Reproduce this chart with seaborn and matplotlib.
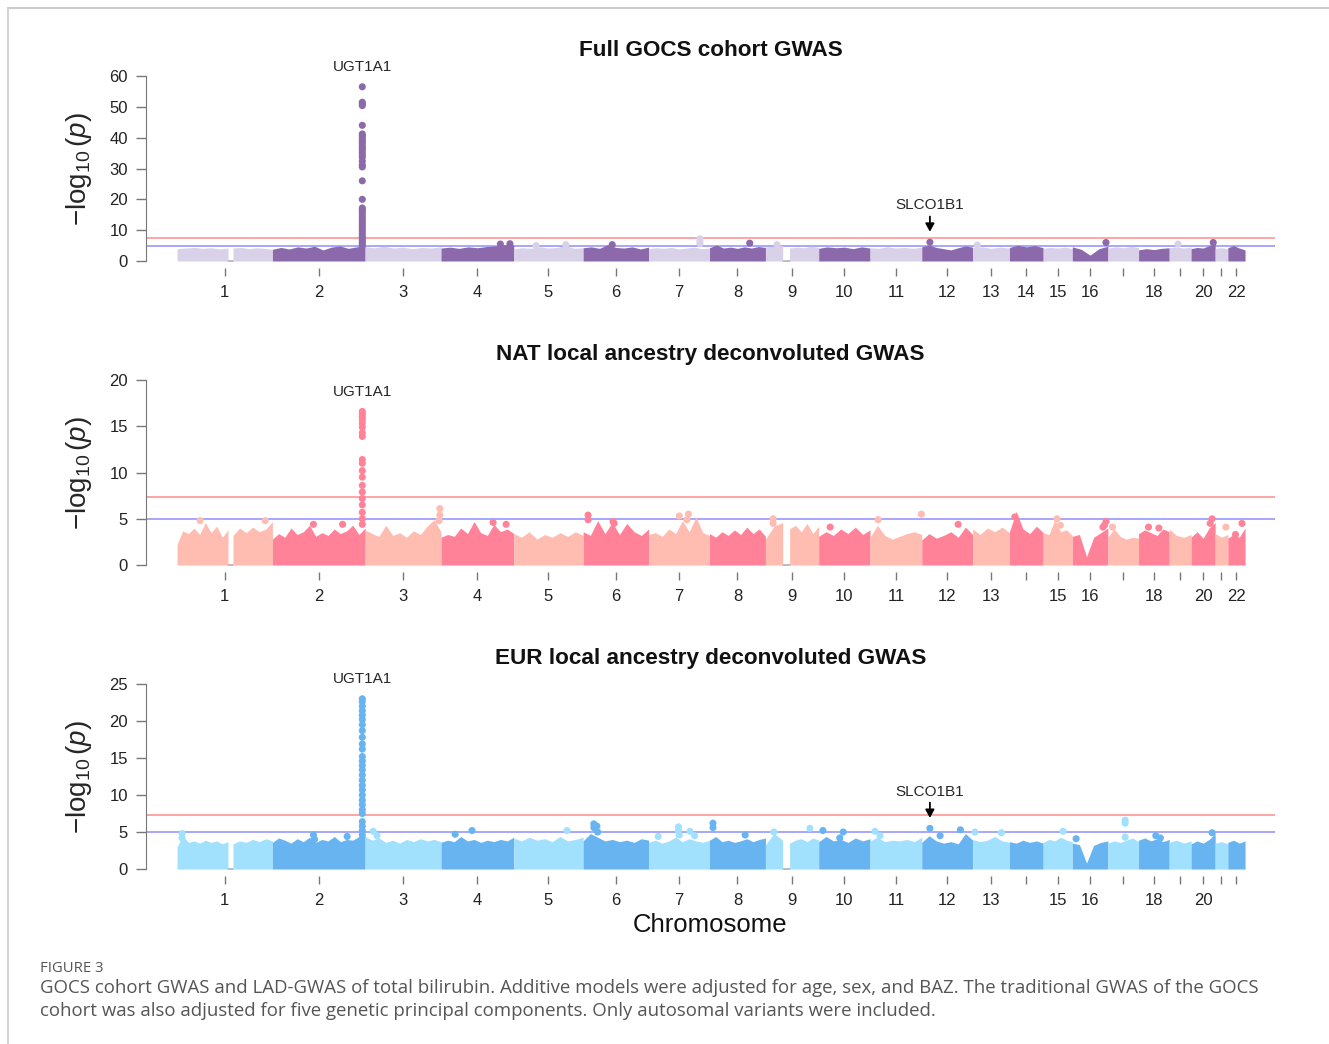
import matplotlib
matplotlib.use('Agg')
import matplotlib.pyplot as plt
import numpy as np
import pandas as pd
import seaborn as sns
from matplotlib.lines import Line2D

# chromosome spans on the plot (Mb, first to last variant) and centromere gaps
chrom_len_mb = [249, 242, 198, 190, 181, 171, 159, 146, 139, 134, 135, 133,
                96, 88, 76, 93, 80, 80, 57, 63, 33, 45]
chrom_gaps_mb = {1: (133, 146), 9: (45, 63)}

# x tick labels (R drops the ones that would overlap)
labels_full = [str(c) for c in range(1, 17)] + ['', '18', '', '20', '', '22']
labels_nat = [str(c) for c in range(1, 14)] + ['', '15', '16', '', '18', '', '20', '', '22']
labels_eur = [str(c) for c in range(1, 14)] + ['', '15', '16', '', '18', '', '20', '', '']

# upper envelope of the dense point cloud per chromosome (-log10 p), None = centromere gap
full_skyline = [
    [4.0, 4.2, 4.4, 4.1, 4.3, 3.9, 4.2, None, 4.2, 4.4, 4.0, 4.3, 4.1, 3.8],
    [3.8, 4.4, 3.9, 4.6, 4.2, 4.8, 3.6, 4.5, 4.9, 4.1, 4.6, 5.0],
    [4.6, 4.3, 4.8, 4.2, 4.5, 4.0, 4.4, 4.2, 4.6],
    [4.2, 4.5, 4.1, 4.6, 4.3, 4.7, 4.9, 5.3, 5.2],
    [4.0, 4.3, 4.1, 4.6, 4.2, 4.4, 5.0, 4.1, 4.3],
    [4.3, 4.6, 4.1, 5.3, 4.4, 4.2, 4.6, 3.9, 4.5],
    [4.0, 4.3, 4.1, 4.4, 3.9, 4.2, 4.5, 4.0, 4.2],
    [4.3, 5.2, 4.2, 4.5, 4.1, 4.6, 4.2, 4.7, 4.4],
    [4.6, 5.0, None, 4.2, 4.5, 4.3, 4.8, 4.4],
    [4.1, 4.6, 4.3, 4.5, 4.0, 4.6, 4.2],
    [4.3, 4.1, 4.6, 4.2, 4.4, 4.1, 4.5],
    [4.6, 5.2, 4.4, 4.0, 3.6, 4.3, 4.9, 4.5],
    [4.3, 4.6, 4.1, 4.5, 4.2],
    [4.4, 5.1, 4.6, 5.0, 4.3],
    [4.1, 4.4, 4.2, 4.5, 4.0],
    [4.6, 3.8, 1.9, 4.0, 4.8],
    [4.2, 4.6, 4.3, 4.7, 4.4],
    [3.6, 4.0, 3.7, 4.1, 4.3],
    [4.3, 4.6, 4.2, 4.5],
    [4.0, 4.4, 4.2, 5.0, 5.5],
    [4.1, 4.3, 4.0],
    [4.3, 5.0, 4.2, 3.6],
]
nat_skyline = [
    [2.2, 3.7, 3.4, 4.0, 3.3, 4.6, 3.5, 4.2, 3.0, 3.8, None, 3.2, 4.0, 3.5, 4.1, 3.6, 3.9, 4.7],
    [2.8, 3.4, 3.0, 4.0, 3.3, 3.6, 4.3, 3.1, 3.5, 3.2, 3.9, 3.4, 3.7, 4.3, 3.3, 4.0],
    [3.8, 3.4, 3.1, 4.3, 3.2, 3.5, 3.0, 3.7, 3.3, 4.2, 4.9, 3.6],
    [3.0, 3.3, 3.1, 4.0, 3.4, 4.7, 3.5, 3.2, 4.4, 3.6, 3.9, 3.4],
    [3.4, 3.0, 3.6, 2.8, 3.3, 3.0, 3.5, 3.1, 3.6, 3.2],
    [3.6, 3.2, 4.8, 3.4, 4.6, 3.3, 4.5, 3.6, 3.2, 3.9],
    [3.3, 3.5, 3.1, 3.9, 3.4, 4.8, 3.6, 5.2, 3.5, 3.2],
    [3.4, 3.0, 3.6, 3.2, 3.8, 3.3, 4.1, 3.4, 3.9, 3.1],
    [2.8, 4.2, 4.6, None, 3.9, 4.3, 3.6, 4.5, 3.4, 4.2],
    [3.1, 3.6, 3.2, 3.9, 3.4, 4.1, 3.3, 3.8],
    [3.0, 4.3, 3.2, 2.8, 3.1, 3.4, 3.6, 3.3],
    [2.7, 3.4, 2.9, 3.2, 3.6, 3.0, 4.1, 3.3],
    [3.9, 3.3, 4.0, 3.6, 4.1, 3.5],
    [3.6, 5.8, 3.9, 3.4, 4.2, 3.5],
    [3.5, 3.3, 4.9, 3.6, 3.8, 3.2],
    [3.1, 3.3, 0.9, 3.0, 3.5, 4.0],
    [3.0, 3.9, 3.1, 2.8, 3.0, 2.9],
    [3.4, 3.8, 3.5, 3.2, 3.9, 3.6],
    [3.9, 3.2, 3.0, 3.3],
    [3.0, 3.6, 2.9, 4.0, 4.6],
    [3.4, 3.0, 3.3],
    [2.9, 3.3, 3.0, 4.0],
]
eur_skyline = [
    [3.0, 4.5, 3.6, 3.8, 3.5, 3.9, 3.6, 3.8, 3.4, 3.7, None, 3.4, 3.8, 3.6, 4.0, 3.7, 4.1, 3.8],
    [3.6, 4.2, 3.9, 3.5, 4.1, 3.7, 4.3, 3.6, 4.0, 3.8, 4.4, 3.7, 4.0, 3.9, 4.4, 4.5],
    [4.4, 3.9, 4.2, 3.6, 3.9, 3.5, 4.0, 3.7, 4.1, 3.8, 4.0, 3.7],
    [3.6, 3.9, 3.7, 4.4, 3.8, 4.0, 3.6, 3.9, 3.7, 4.0, 3.8, 4.3],
    [4.2, 3.8, 4.3, 3.9, 4.1, 3.7, 4.4, 3.8, 4.0, 4.3],
    [3.8, 4.8, 4.3, 3.8, 4.0, 3.7, 3.9, 3.6, 4.1, 3.9],
    [3.6, 3.9, 3.5, 3.8, 4.3, 3.7, 4.1, 3.8, 3.6, 3.9],
    [3.9, 4.4, 3.7, 3.9, 3.6, 3.8, 4.1, 3.7, 4.0, 4.2],
    [3.3, 4.8, 3.9, None, 3.5, 3.9, 4.1, 3.7, 4.2, 3.9],
    [3.7, 4.4, 3.8, 4.0, 3.6, 4.2, 3.8, 4.1],
    [3.8, 4.3, 3.7, 3.9, 3.8, 4.0, 3.7, 4.3],
    [3.6, 4.5, 3.8, 3.5, 3.7, 3.4, 4.8, 3.9],
    [4.0, 3.7, 3.9, 4.4, 3.8, 3.6],
    [3.7, 3.5, 3.9, 3.6, 3.8, 3.5],
    [3.6, 4.0, 3.8, 4.3, 3.9, 3.7],
    [3.5, 3.3, 0.8, 3.2, 3.6, 3.8],
    [3.5, 3.8, 3.6, 3.9, 4.2, 3.7],
    [3.9, 4.2, 3.8, 4.1, 3.7, 4.0],
    [3.6, 3.9, 3.5, 3.8],
    [3.4, 3.8, 3.5, 4.0, 4.8],
    [3.5, 3.7, 3.4],
    [3.6, 3.9, 3.5, 3.8],
]

# UGT1A1 (chr2) and SLCO1B1 (chr12) loci, Mb
ugt1a1_pos = 234.6
slco1b1_pos = 21.3

# -log10 p of the variants stacked at UGT1A1
full_ugt1a1 = [56.5, 51.5, 51.0, 50.4, 44.0, 41.2, 40.6, 40.0, 39.2, 38.6, 38.0,
               37.2, 36.6, 36.0, 35.2, 34.4, 33.6, 32.4, 31.2, 30.5, 26.0, 20.0,
               17.2, 16.6, 16.0, 15.2, 14.4, 13.6, 12.8, 12.0, 11.2, 10.4, 9.6,
               8.8, 8.0, 7.4, 6.8, 6.2, 5.6, 5.0]
nat_ugt1a1 = [16.6, 16.3, 16.0, 15.7, 15.3, 14.9, 14.3, 13.9, 11.4, 11.0, 10.2,
              9.5, 8.6, 7.9, 7.2, 6.5, 5.7, 5.0, 4.4]
eur_ugt1a1 = [23.0, 22.6, 22.0, 21.4, 20.8, 20.2, 19.5, 18.7, 17.8, 16.9, 16.2,
              15.2, 14.6, 14.0, 13.4, 12.7, 12.0, 11.3, 10.7, 10.0, 9.3, 8.7,
              8.0, 7.5, 6.4, 5.8, 5.2, 4.6]

# other points standing above the cloud: (chromosome, position Mb, -log10 p)
full_points = [(4, 155, 5.5), (4, 180, 5.6), (5, 58, 5.0), (5, 136, 5.3),
               (6, 76, 5.3), (7, 134, 5.6), (7, 134, 6.4), (7, 134, 7.2),
               (8, 105, 5.8), (9, 30, 5.3), (12, slco1b1_pos, 6.1), (13, 12, 5.2),
               (16, 88, 6.0), (19, 23, 5.5), (20, 58, 6.0)]
nat_points = [(1, 60, 4.8), (1, 230, 4.8), (2, 107, 4.4), (2, 183, 4.4),
              (3, 195, 6.1), (3, 195, 5.4), (3, 193, 4.8), (4, 136, 4.6),
              (4, 170, 4.4), (6, 13, 5.4), (6, 13, 4.9), (6, 78, 4.7),
              (6, 81, 4.5), (7, 80, 5.3), (7, 104, 5.5), (7, 100, 4.9),
              (9, 20, 5.0), (9, 20, 4.5), (10, 30, 4.1), (11, 21, 4.9),
              (11, 134, 5.5), (12, 95, 4.4), (14, 14, 5.2), (15, 36, 5.0),
              (15, 45, 4.3), (16, 88, 4.7), (16, 84, 4.3), (16, 80, 4.1),
              (17, 12, 4.1), (18, 26, 4.1), (18, 53, 4.0), (20, 55, 5.0),
              (20, 50, 4.5), (21, 28, 4.1), (22, 37, 4.5), (22, 20, 3.3)]
eur_points = [(1, 13, 4.8), (1, 13, 4.2), (2, 107, 4.6), (2, 110, 4.0),
              (2, 195, 4.4), (3, 21, 5.1), (3, 31, 4.5), (4, 37, 4.7),
              (4, 81, 5.2), (5, 139, 5.2), (6, 28, 6.1), (6, 28, 5.6),
              (6, 36, 5.8), (6, 38, 5.0), (7, 25, 4.4), (7, 78, 5.7),
              (7, 78, 5.2), (7, 80, 4.6), (7, 108, 5.1), (7, 120, 4.5),
              (8, 9, 6.2), (8, 9, 5.6), (8, 93, 4.6), (9, 22, 5.0),
              (9, 116, 5.5), (10, 11, 5.2), (10, 55, 4.2), (10, 64, 5.0),
              (11, 13, 5.1), (11, 26, 4.5), (12, slco1b1_pos, 5.5), (12, 48, 4.5),
              (12, 101, 5.3), (13, 6, 5.0), (13, 75, 4.9), (15, 52, 5.1),
              (16, 10, 4.1), (17, 45, 6.6), (17, 45, 6.2), (17, 45, 4.3),
              (18, 45, 4.5), (18, 57, 4.2), (20, 55, 4.9)]

genome_wide = -np.log10(5e-8)
suggestive = -np.log10(1e-5)

sns.set_style('ticks')
plt.rcParams['font.family'] = ['Liberation Sans', 'DejaVu Sans']
plt.rcParams['mathtext.fontset'] = 'custom'
plt.rcParams['mathtext.rm'] = 'Liberation Sans'
plt.rcParams['mathtext.it'] = 'Liberation Sans:italic'

chrom_start = np.concatenate([[0], np.cumsum(chrom_len_mb)[:-1]])
chrom_mid = chrom_start + np.array(chrom_len_mb) / 2


def point_frame(points):
    df = pd.DataFrame(points, columns=['chrom', 'pos', 'logp'])
    df['x'] = chrom_start[df['chrom'] - 1] + df['pos']
    df['shade'] = np.where(df['chrom'] % 2 == 1, 'light', 'dark')
    return df


def draw_panel(ax, skyline, column, points, light, dark, ymax, ystep, title, labels, slco):
    # dense cloud, one filled envelope per chromosome arm
    for i, heights in enumerate(skyline):
        chrom = i + 1
        color = light if chrom % 2 == 1 else dark
        L = chrom_len_mb[i]
        if None in heights:
            k = heights.index(None)
            g0, g1 = chrom_gaps_mb[chrom]
            arms = [((0, g0), heights[:k]), ((g1, L), heights[k + 1:])]
            ax.plot(chrom_start[i] + np.array([g0, g1]), [0, 0], color='#b0b0b0', lw=1.2, zorder=1)
        else:
            arms = [((0, L), heights)]
        for (a, b), hs in arms:
            xs = chrom_start[i] + np.linspace(a, b, len(hs))
            ax.fill_between(xs, 0, hs, color=color, lw=0, zorder=2)

    pts = points + [(2, ugt1a1_pos, v) for v in column]
    df = point_frame(pts)
    sns.scatterplot(data=df, x='x', y='logp', hue='shade', palette={'light': light, 'dark': dark},
                    s=26, edgecolor='none', legend=False, ax=ax, zorder=3)

    ax.axhline(genome_wide, color='#ff9e9e', lw=1.3, zorder=1)
    ax.axhline(suggestive, color='#8e8eff', lw=1.1, zorder=1)

    ax.set_xlim(-80.9, 2866.3)
    ax.set_ylim(-0.04 * ymax, 1.04 * ymax)
    ax.set_yticks(np.arange(0, ymax + 1, ystep))
    ax.set_xticks(chrom_mid)
    ax.set_xticklabels(labels)
    for side in ['top', 'right', 'bottom']:
        ax.spines[side].set_visible(False)
    ax.spines['left'].set_bounds(0, ymax)
    ax.spines['left'].set_color('#777777')
    ax.tick_params(axis='y', length=7, width=1, color='#777777', labelsize=12, pad=6, labelcolor='#222222')
    ax.tick_params(axis='x', length=6, width=1, color='#777777', labelsize=12, pad=6, labelcolor='#222222')
    ax.set_xlabel('')
    ax.set_ylabel(r'$-\log_{10}(p)$', fontsize=20, va='center')
    ax.yaxis.set_label_coords(-0.0595, 0.5)
    ax.text(0.5, 1.093, title, transform=ax.transAxes, ha='center', va='center',
            fontsize=16.2, fontweight='bold', color='#111111')

    ax.annotate('UGT1A1', xy=(chrom_start[1] + ugt1a1_pos, max(column)), xytext=(0, 14),
                textcoords='offset points', ha='center', va='center', fontsize=11)
    if slco is not None:
        sx = chrom_start[11] + slco1b1_pos
        ax.annotate('SLCO1B1', xy=(sx, slco), xytext=(0, 26.5), textcoords='offset points',
                    ha='center', va='center', fontsize=11)
        ax.annotate('', xy=(sx, slco), xytext=(0, 18.5), textcoords='offset points',
                    arrowprops=dict(arrowstyle='-|>,head_length=0.4,head_width=0.22', color='black',
                                    lw=1.3, shrinkA=0, shrinkB=7.5, mutation_scale=12))


fig = plt.figure(figsize=(13.29, 10.44), dpi=100)
ax1 = fig.add_axes([0.1099, 0.7429, 0.8495, 0.1914])
ax2 = fig.add_axes([0.1099, 0.4517, 0.8495, 0.1914])
ax3 = fig.add_axes([0.1099, 0.1605, 0.8495, 0.1914])

draw_panel(ax1, full_skyline, full_ugt1a1, full_points, '#d9d1e7', '#8c69ab', 60, 10,
           'Full GOCS cohort GWAS', labels_full, 6.1)
draw_panel(ax2, nat_skyline, nat_ugt1a1, nat_points, '#ffbdb2', '#ff8298', 20, 5,
           'NAT local ancestry deconvoluted GWAS', labels_nat, None)
draw_panel(ax3, eur_skyline, eur_ugt1a1, eur_points, '#a2e1fe', '#67b4f0', 25, 5,
           'EUR local ancestry deconvoluted GWAS', labels_eur, 5.5)

fig.text(0.5343, 1 - 925 / 1044, 'Chromosome', ha='center', va='center', fontsize=18.5, color='#111111')

# article frame and caption
fig.add_artist(Line2D([8 / 1329, 1], [1 - 8 / 1044, 1 - 8 / 1044], transform=fig.transFigure,
                      color='#cccccc', lw=1.5))
fig.add_artist(Line2D([8 / 1329, 8 / 1329], [0, 1 - 8 / 1044], transform=fig.transFigure,
                      color='#cccccc', lw=1.2))
cap_font = ['Open Sans', 'DejaVu Sans']
fig.text(40 / 1329, 1 - 968 / 1044, 'FIGURE 3', ha='left', va='center', fontsize=10.7,
         color='#555555', family=cap_font)
fig.text(40 / 1329, 1 - 988 / 1044,
         'GOCS cohort GWAS and LAD-GWAS of total bilirubin. Additive models were adjusted for age, sex, '
         'and BAZ. The traditional GWAS of the GOCS', ha='left', va='center', fontsize=13.4,
         color='#555555', family=cap_font)
fig.text(40 / 1329, 1 - 1011 / 1044,
         'cohort was also adjusted for five genetic principal components. Only autosomal variants were '
         'included.', ha='left', va='center', fontsize=13.4, color='#555555', family=cap_font)

fig.savefig('out.png', dpi=100)
